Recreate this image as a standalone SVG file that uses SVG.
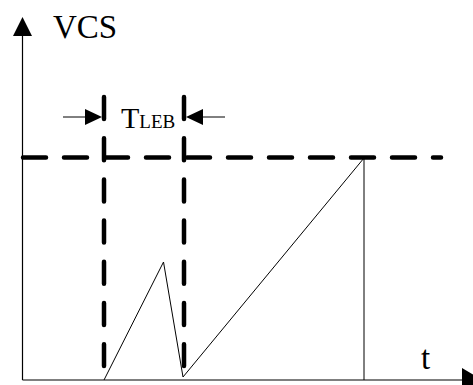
<svg xmlns="http://www.w3.org/2000/svg" width="473" height="385" viewBox="0 0 473 385">
<style>
.axis{stroke:#000;stroke-width:1.2;fill:none}
.thin{stroke:#000;stroke-width:1;fill:none}
.dash{stroke:#000;stroke-width:4.5;fill:none;stroke-linecap:round}
.lbl{font-family:'Liberation Serif','Times New Roman',serif;fill:#000}
.head{fill:#000;stroke:none}
</style>
<rect width="473" height="385" fill="#fff"/>
<g id="axes">
<line class="axis" x1="22.5" y1="34" x2="22.5" y2="380"/>
<polygon class="head" points="22.5,17 13,36 32,36"/>
<line class="axis" x1="22.5" y1="380" x2="464" y2="380"/>
<polygon class="head" points="482,380 462,368 462,392"/>
</g>
<g id="labels">
<text class="lbl" x="53" y="38" font-size="33">VCS</text>
<text class="lbl" x="421" y="369" font-size="33">t</text>
<text class="lbl" x="121" y="128" font-size="30">T<tspan font-size="19">LEB</tspan></text>
</g>
<g id="dashed">
<line class="dash" x1="23" y1="157.5" x2="441" y2="157.5" stroke-dasharray="23 18"/>
<line class="dash" x1="104" y1="97" x2="104" y2="366" stroke-dasharray="22 19.2"/>
<line class="dash" x1="184" y1="97" x2="184" y2="366" stroke-dasharray="22 19.2"/>
</g>
<g id="tleb-arrows">
<line class="thin" x1="63" y1="117" x2="88" y2="117"/>
<polygon class="head" points="102,117 85,109 85,125"/>
<line class="thin" x1="200" y1="117" x2="225" y2="117"/>
<polygon class="head" points="186,117 203,109 203,125"/>
</g>
<g id="waveform">
<polyline class="thin" points="104,380 163.5,262 183,377 364,158 364,380"/>
</g>
</svg>
